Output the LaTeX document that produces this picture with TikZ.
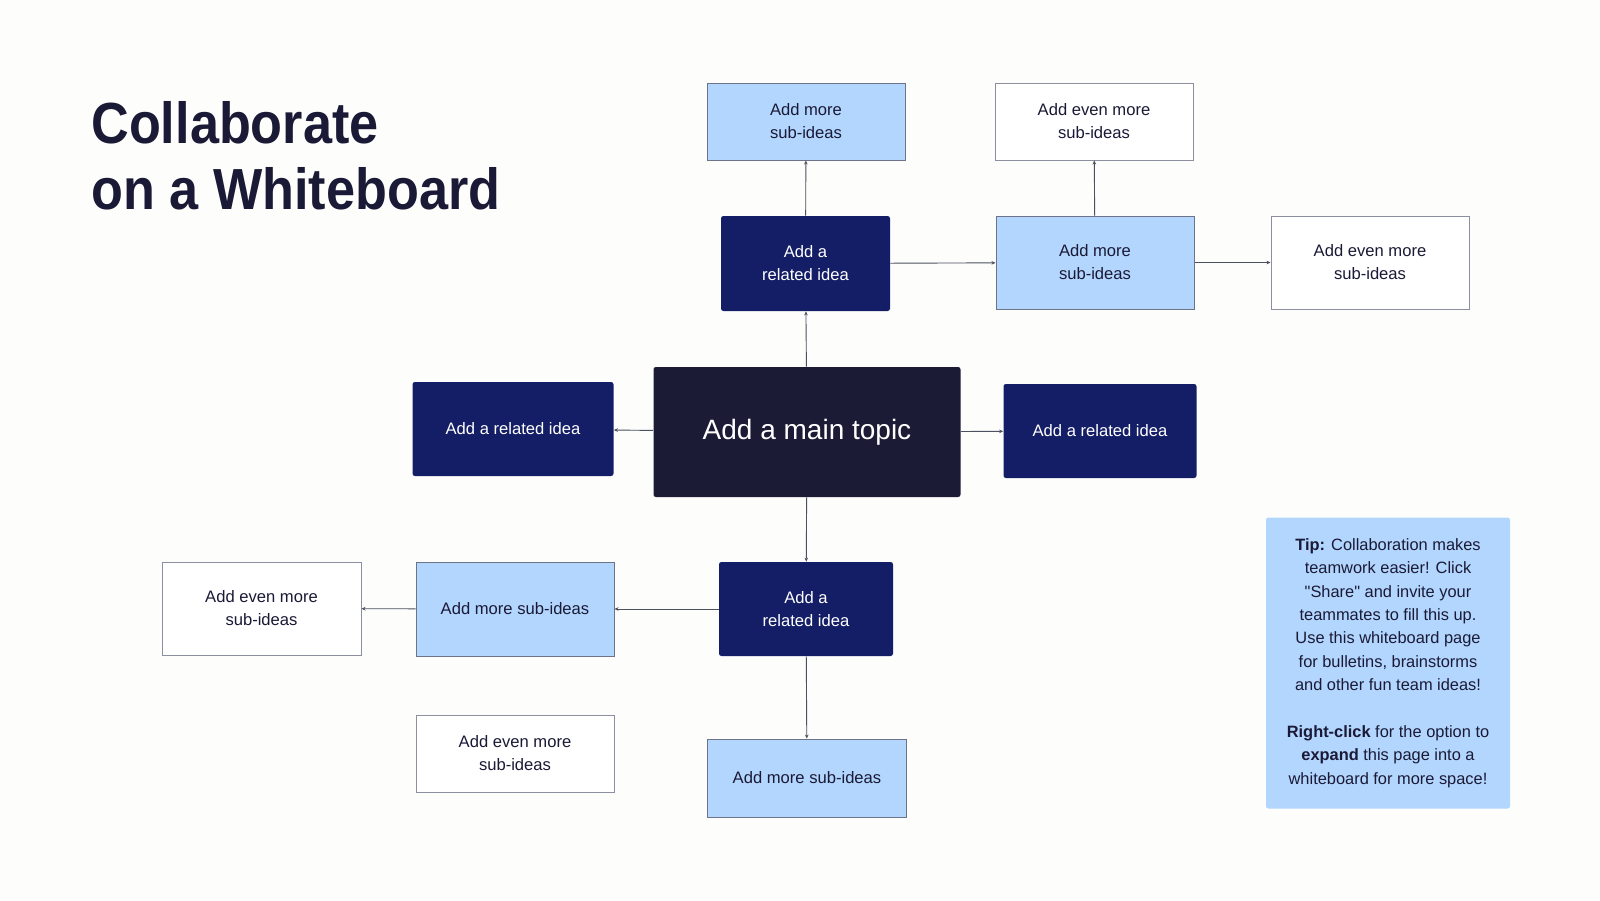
\documentclass[tikz,border=0pt]{standalone}
\usepackage{fontspec}
\setmainfont{Liberation Sans}[Ligatures=TeXOff]
\newfontfamily\titlefont[FakeStretch=0.9]{Liberation Sans}
\usetikzlibrary{arrows.meta}
\definecolor{inkblue}{RGB}{26,26,54}
\definecolor{topicnavy}{RGB}{27,27,54}
\definecolor{relnavy}{RGB}{20,30,102}
\definecolor{skyblue}{RGB}{179,214,254}
\definecolor{edgegray}{RGB}{110,115,135}
\definecolor{paper}{RGB}{253,253,252}
\tikzset{
  box/.style={inner sep=0pt, align=center, font=\fontsize{8.3}{11.5}\selectfont},
  topic/.style={inner sep=0pt, fill=topicnavy, text=white, rounded corners=1.2pt,
    font=\fontsize{14}{16}\selectfont},
  related/.style={box, fill=relnavy, text=white, rounded corners=1.2pt},
  subidea/.style={box, fill=skyblue, draw=edgegray, line width=0.5pt, text=inkblue},
  moreidea/.style={box, fill=white, draw=edgegray!80, line width=0.5pt, text=inkblue},
  tipbox/.style={inner sep=0pt, fill=skyblue, rounded corners=1.2pt, text=inkblue,
    align=center, font=\fontsize{8.2}{11.7}\selectfont},
  link/.style={draw=edgegray!70!black, line width=0.45pt, -{Stealth[length=2pt,width=1.8pt]}},
}
\begin{document}
\begin{tikzpicture}[x=0.5pt,y=-0.5pt]
  \fill[paper] (0,0) rectangle (1600,900);
  \useasboundingbox (0,0) rectangle (1600,900);

  % title
  \node[anchor=base west, inner sep=0pt, align=left, text=inkblue,
    font=\titlefont\bfseries\fontsize{29}{33}\selectfont] (title) at (91,209)
    {Collaborate\\on a Whiteboard};

  % centre
  \node[topic, minimum width=153.5pt, minimum height=65pt] (main) at (807,432) {Add a main topic};

  % related ideas
  \node[related, minimum width=84.5pt, minimum height=47.5pt] (rtop) at (805.5,263.5) {Add a\\related idea};
  \node[related, minimum width=100.5pt, minimum height=47pt] (rleft) at (513,429) {Add a related idea};
  \node[related, minimum width=96.5pt, minimum height=47pt] (rright) at (1100,431) {Add a related idea};
  \node[related, minimum width=87pt, minimum height=47pt] (rbottom) at (806,609) {Add a\\related idea};

  % sub-ideas
  \node[subidea, minimum width=99pt, minimum height=38.5pt] (stop) at (806,121.5) {Add more\\sub-ideas};
  \node[subidea, minimum width=99pt, minimum height=46.5pt] (sright) at (1095,262.5) {Add more\\sub-ideas};
  \node[subidea, minimum width=99pt, minimum height=47pt] (sleft) at (515,609) {Add more sub-ideas};
  \node[subidea, minimum width=99.5pt, minimum height=39pt] (sbottom) at (807,778) {Add more sub-ideas};

  % even more sub-ideas
  \node[moreidea, minimum width=99pt, minimum height=38.5pt] (mtop) at (1094,121.5) {Add even more\\sub-ideas};
  \node[moreidea, minimum width=99pt, minimum height=46.5pt] (mright) at (1370,262.5) {Add even more\\sub-ideas};
  \node[moreidea, minimum width=99.5pt, minimum height=46.5pt] (mleft) at (261.5,608.5) {Add even more\\sub-ideas};
  \node[moreidea, minimum width=99pt, minimum height=38.5pt] (mlow) at (515,753.5) {Add even more\\sub-ideas};

  % tip
  \node[tipbox, minimum width=122pt, minimum height=145.5pt] (tip) at (1388,663)
    {\textbf{Tip:} Collaboration makes\\teamwork easier! Click\\"Share" and invite your\\teammates to fill this up.\\Use this whiteboard page\\for bulletins, brainstorms\\and other fun team ideas!\\[11.7pt]\textbf{Right-click} for the option to\\\textbf{expand} this page into a\\whiteboard for more space!};

  % connectors
  \draw[link] (main) -- (rtop);
  \draw[link] (main) -- (rleft);
  \draw[link] (main) -- (rright);
  \draw[link] (main) -- (rbottom);
  \draw[link] (rtop) -- (stop);
  \draw[link] (rtop) -- (sright);
  \draw[link] (sright) -- (mtop);
  \draw[link] (sright) -- (mright);
  \draw[link] (rbottom) -- (sleft);
  \draw[link] (sleft) -- (mleft);
  \draw[link] (rbottom) -- (sbottom);
\end{tikzpicture}
\end{document}
